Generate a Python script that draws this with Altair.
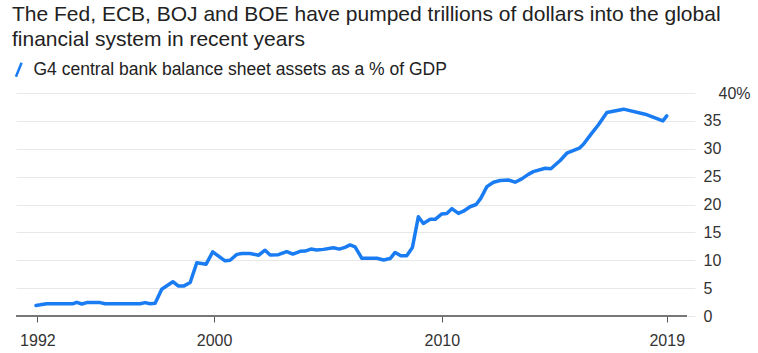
import altair as alt
import pandas as pd

years = [1992.18, 1992.36, 1992.65, 1993.24, 1993.81, 1993.97, 1994.19, 1994.41, 1994.99, 1995.21,
         1995.87, 1996.75, 1996.97, 1997.19, 1997.41, 1997.70, 1998.19, 1998.42, 1998.68, 1998.95,
         1999.24, 1999.65, 1999.94, 2000.48, 2000.70, 2001.00, 2001.22, 2001.58, 2001.95, 2002.24,
         2002.46, 2002.82, 2003.19, 2003.46, 2003.78, 2004.00, 2004.25, 2004.51, 2004.80, 2005.24,
         2005.50, 2005.75, 2005.97, 2006.19, 2006.49, 2007.15, 2007.44, 2007.73, 2007.95, 2008.20,
         2008.46, 2008.71, 2008.97, 2009.19, 2009.49, 2009.71, 2010.00, 2010.22, 2010.44, 2010.73,
         2010.95, 2011.24, 2011.51, 2011.71, 2011.98, 2012.27, 2012.56, 2012.92, 2013.22, 2013.51,
         2013.80, 2014.02, 2014.54, 2014.79, 2015.20, 2015.49, 2016.04, 2016.22, 2016.59, 2016.88,
         2017.25, 2017.98, 2018.93, 2019.71, 2019.88]
values = [1.9, 2.0, 2.2, 2.2, 2.2, 2.45, 2.15, 2.4, 2.4, 2.2,
          2.2, 2.2, 2.4, 2.2, 2.3, 4.8, 6.15, 5.4, 5.4, 6.0,
          9.55, 9.3, 11.5, 9.9, 10.0, 11.05, 11.2, 11.2, 10.9, 11.8,
          10.95, 11.0, 11.55, 11.1, 11.6, 11.65, 12.0, 11.85, 11.95, 12.25,
          12.0, 12.3, 12.75, 12.4, 10.35, 10.35, 10.05, 10.3, 11.4, 10.8,
          10.8, 12.3, 17.8, 16.6, 17.35, 17.35, 18.3, 18.4, 19.25, 18.4,
          18.8, 19.6, 20.0, 21.1, 23.2, 24.0, 24.3, 24.4, 24.0, 24.6,
          25.4, 25.9, 26.5, 26.4, 27.9, 29.2, 30.1, 30.8, 32.8, 34.3,
          36.5, 37.1, 36.2, 35.0, 35.9]
series_name = "G4 central bank balance sheet assets as a % of GDP"
x_ticks = [1992.24, 2000, 2010, 2019.88]
y_ticks = [0, 5, 10, 15, 20, 25, 30, 35, 40]

df = pd.DataFrame({"year": years, "value": values, "series": series_name})

FONT = "Liberation Sans"
BLUE = "#1a7cf2"

y_scale = alt.Scale(domain=[0, 40], nice=False)
y_axis = alt.Axis(orient="right", values=y_ticks, title=None,
                  labelExpr="datum.value == 40 ? '40%' : datum.value",
                  domain=False, ticks=False, gridColor="#e8e8e8", gridWidth=1,
                  labelAlign="left", labelBaseline="middle", labelOverlap=False,
                  labelPadding={"condition": {"test": "datum.value == 40", "value": 23}, "value": 8},
                  labelFontSize=16, labelColor="#333", labelFont=FONT)

line = alt.Chart(df).mark_line(strokeWidth=3.5, strokeJoin="round", strokeCap="round").encode(
    x=alt.X("year:Q",
            scale=alt.Scale(domain=[1991.30, 2021.12], nice=False, zero=False),
            axis=alt.Axis(values=x_ticks, labelExpr="floor(datum.value)", title=None,
                          grid=False, domain=False, ticks=True, tickSize=6, tickColor="#555",
                          tickWidth=1, labelPadding=10, labelFontSize=16, labelColor="#333",
                          labelFont=FONT, labelFlush=False, labelOverlap=False)),
    y=alt.Y("value:Q", scale=y_scale, axis=y_axis),
    color=alt.Color("series:N", scale=alt.Scale(range=[BLUE]),
                    legend=alt.Legend(title=None, orient="none", legendX=-6, legendY=-32,
                                      symbolType="M-0.4,1L0.4,-1", symbolSize=196,
                                      symbolStrokeWidth=2.5, labelFontSize=17.5, labelFont=FONT,
                                      labelColor="#222", labelOffset=6, padding=0, labelLimit=0)),
)

base_df = pd.DataFrame({"value": [0]})
baseline = alt.Chart(base_df).mark_rule(color="#777", strokeWidth=2).encode(
    y=alt.Y("value:Q", scale=y_scale, axis=y_axis), x=alt.value(0), x2=alt.value(671))

chart = alt.layer(line, baseline).properties(
    width=679, height=223,
    title=alt.TitleParams(
        text=["The Fed, ECB, BOJ and BOE have pumped trillions of dollars into the global",
              "financial system in recent years"],
        anchor="start", frame="group", fontSize=21, font=FONT, fontWeight="normal",
        color="#222", lineHeight=25, offset=11, dx=-4),
    autosize=alt.AutoSizeParams(type="none"),
    padding={"left": 16, "top": 93, "right": 63, "bottom": 37},
).configure_view(stroke=None)

chart.save("out.html", embed_options={"renderer": "svg", "actions": False})
